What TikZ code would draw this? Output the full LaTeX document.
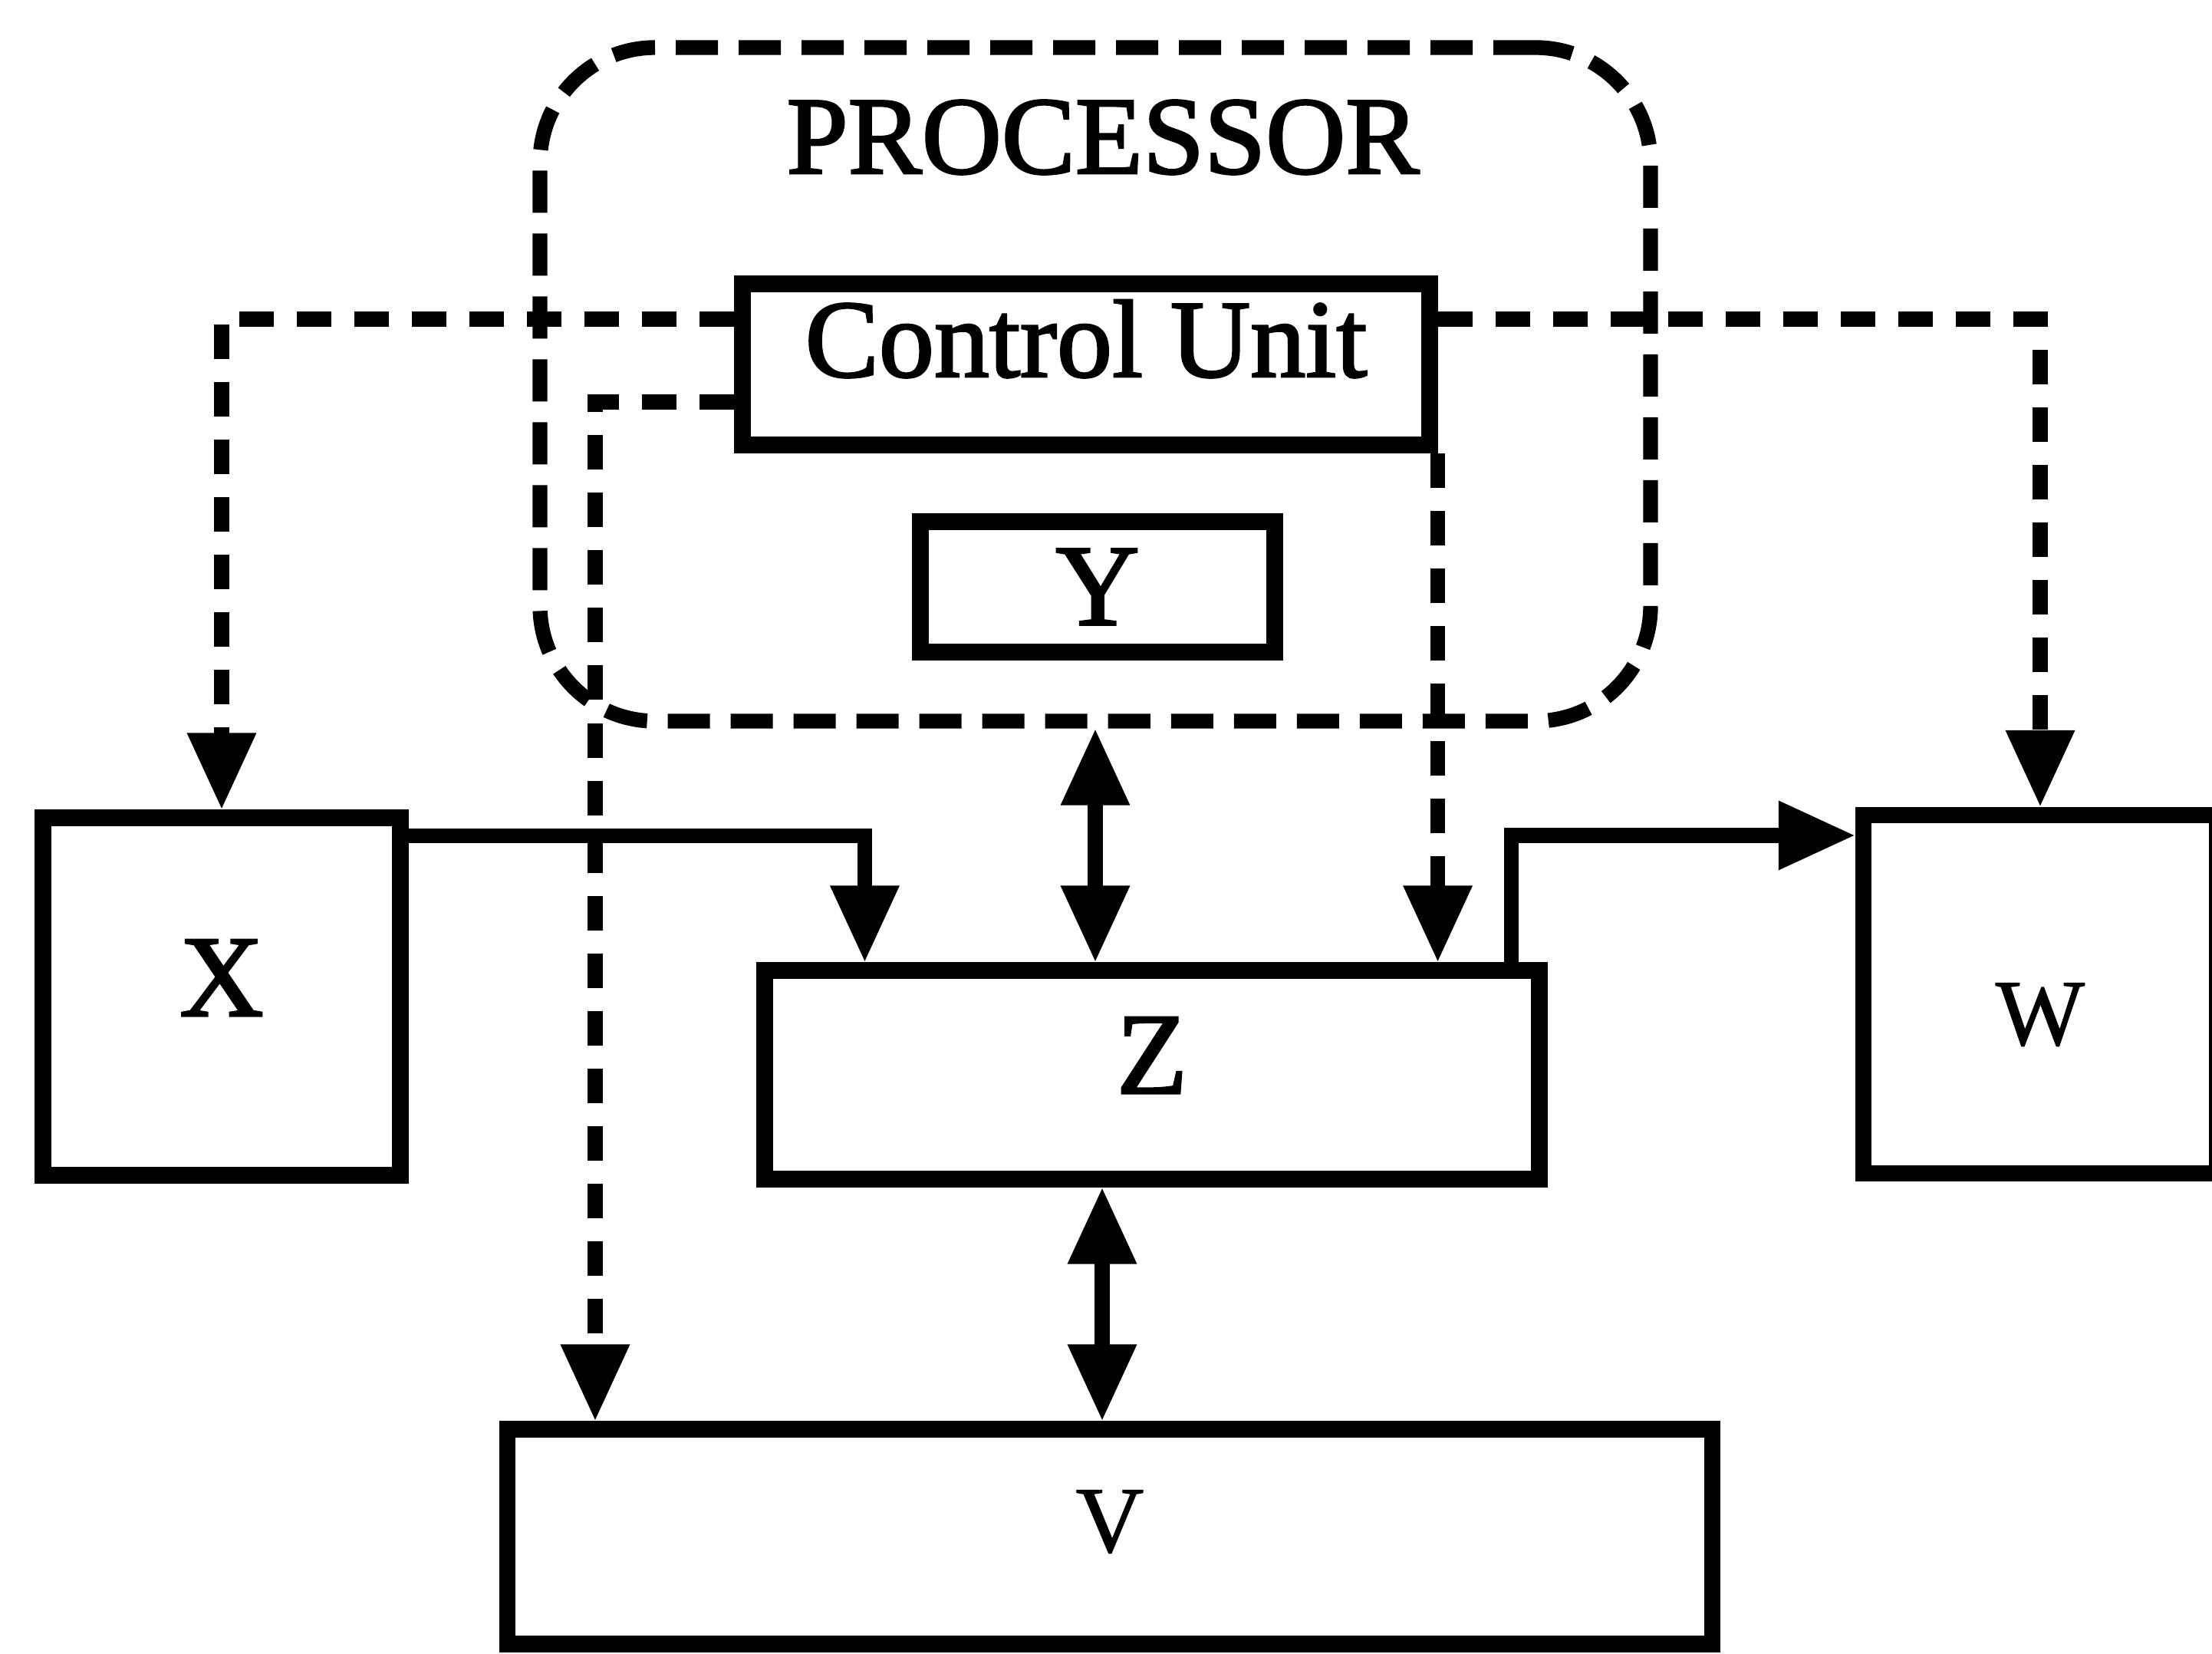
\documentclass[tikz,border=0pt]{standalone}
\usepackage{fontspec}
\setmainfont{Liberation Serif}
\newfontfamily\heavyfont{Liberation Serif}[FakeBold=2]
\newfontfamily\lightfont{Liberation Serif}[FakeBold=1]
\usetikzlibrary{arrows.meta}

\begin{document}
\begin{tikzpicture}[
  >={Triangle[length=1.0cm, width=0.85cm]},
  box/.style   = {draw, line width=6pt, inner sep=0pt,
                  font=\heavyfont\fontsize{43}{43}\selectfont},
  iobox/.style = {box, font=\lightfont\fontsize{35}{35}\selectfont},
  proc/.style  = {draw, line width=5.5pt, rounded corners=1.5cm,
                  dash pattern=on 0.55cm off 0.27cm},
  ctrl/.style  = {->, line width=5.5pt, dash pattern=on 0.45cm off 0.3cm},
  flow/.style  = {->, line width=5.5pt}
]
\useasboundingbox (0,0) rectangle (28.84,21.55);

\node[proc, minimum width=14.48cm, minimum height=8.78cm] (P) at (14.28,16.54) {};
\node[font=\heavyfont\fontsize{41}{41}\selectfont, anchor=base] (title) at (14.38,19.29) {PROCESSOR};
\node[box, font=\heavyfont\fontsize{41}{41}\selectfont,
      minimum width=8.96cm, minimum height=2.1cm,
      text height=1.0cm, text depth=0.68cm] (CU) at (14.16,16.80) {Control Unit};
\node[box, minimum width=4.62cm, minimum height=1.70cm] (Y) at (14.31,13.90) {Y};

\node[box, minimum width=4.66cm, minimum height=4.66cm,
      text height=1.0cm, text depth=0.5cm] (X) at (2.89,8.56) {X};
\node[box, minimum width=10.10cm, minimum height=2.72cm,
      text height=1.0cm, text depth=0.52cm] (Z) at (15.02,7.54) {Z};
\node[iobox, minimum width=4.61cm, minimum height=4.67cm,
      text height=1.5cm, text depth=0.18cm] (W) at (26.60,8.59) {W};
\node[iobox, minimum width=15.71cm, minimum height=2.80cm,
      text height=0.9cm, text depth=0.5cm] (V) at (14.47,1.52) {V};

\draw[ctrl] ([yshift=0.59cm]CU.west) -| (X.north);
\draw[ctrl] ([yshift=0.59cm]CU.east) -| (W.north);
\draw[ctrl] ([yshift=-0.49cm]CU.west) -| ([xshift=1.25cm]V.north west);
\draw[ctrl] (CU.south east) -- (CU.south east |- Z.north);

\draw[flow] ([yshift=-0.34cm]X.north east) -| ([xshift=1.41cm]Z.north west);
\draw[flow] ([xshift=-0.47cm]Z.north east) |- ([yshift=-0.37cm]W.north west);
\draw[flow, <->] (P.south) -- (P.south |- Z.north);
\draw[flow, <->] ([xshift=-0.65cm]Z.south) -- ([xshift=-0.65cm]Z.south |- V.north);
\end{tikzpicture}
\end{document}
